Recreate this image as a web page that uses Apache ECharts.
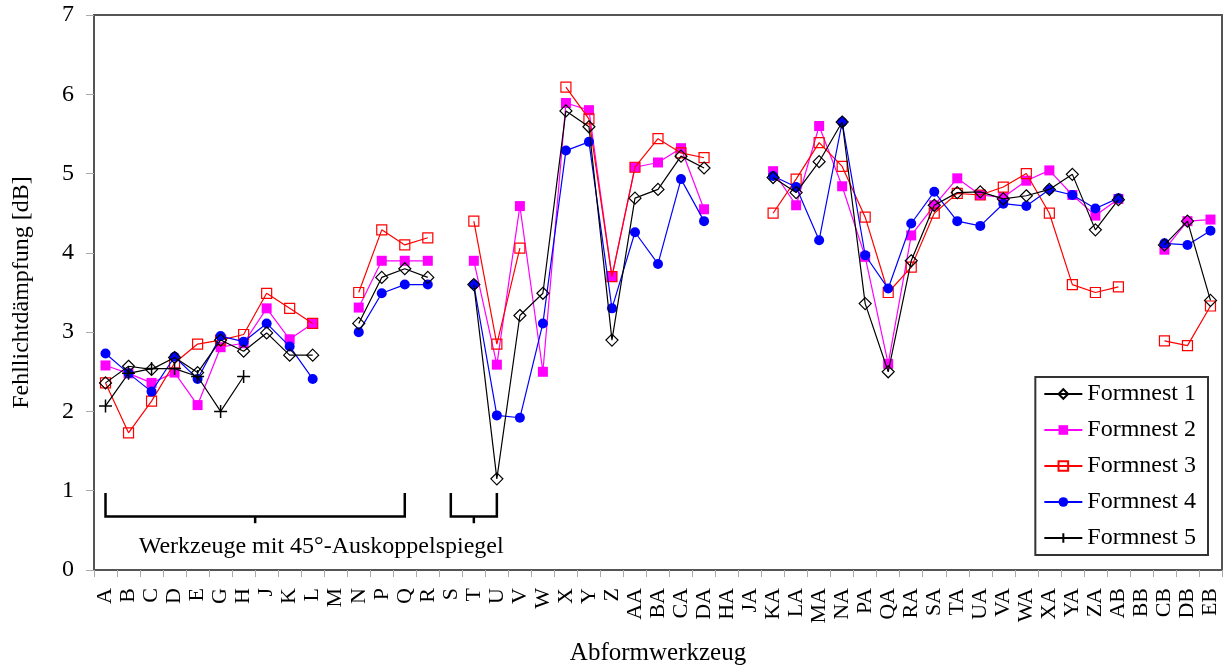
<!DOCTYPE html>
<html>
<head>
<meta charset="utf-8">
<script src="https://cdn.jsdelivr.net/npm/echarts@6/dist/echarts.min.js"></script>
<style>
html,body{margin:0;padding:0;background:#fff;}
#chart{width:1223px;height:668px;}
</style>
</head>
<body>
<div id="chart"></div>
<script>
const categories = ['A','B','C','D','E','G','H','J','K','L','M','N','P','Q','R','S','T','U','V','W','X','Y','Z','AA','BA','CA','DA','HA','JA','KA','LA','MA','NA','PA','QA','RA','SA','TA','UA','VA','WA','XA','YA','ZA','AB','BB','CB','DB','EB'];

const formnest1 = [2.36,2.57,2.53,2.68,2.49,2.90,2.76,2.99,2.71,2.71,null,3.11,3.69,3.80,3.69,null,3.60,1.15,3.21,3.49,5.79,5.59,2.90,4.69,4.80,5.22,5.07,null,null,4.95,4.76,5.15,5.65,3.36,2.50,3.90,4.60,4.76,4.77,4.68,4.72,4.80,4.99,4.29,4.67,null,4.10,4.40,3.40];
const formnest2 = [2.58,2.48,2.36,2.49,2.08,2.81,2.86,3.30,2.91,3.11,null,3.31,3.90,3.90,3.90,null,3.90,2.59,4.59,2.50,5.89,5.80,3.70,5.08,5.14,5.32,4.55,null,null,5.03,4.60,5.60,4.84,3.95,2.60,4.22,4.60,4.94,4.73,4.70,4.91,5.04,4.73,4.47,4.68,null,4.04,4.40,4.42];
const formnest3 = [2.36,1.73,2.13,2.61,2.85,2.90,2.97,3.49,3.30,3.11,null,3.50,4.29,4.10,4.19,null,4.40,2.85,4.06,null,6.09,5.69,3.70,5.08,5.44,5.26,5.20,null,null,4.50,4.93,5.39,5.09,4.45,3.50,3.82,4.50,4.75,4.73,4.83,5.00,4.50,3.60,3.50,3.57,null,2.89,2.83,3.33];
const formnest4 = [2.73,2.48,2.25,2.69,2.41,2.95,2.88,3.11,2.82,2.41,null,3.00,3.49,3.60,3.60,null,3.60,1.95,1.92,3.11,5.29,5.40,3.30,4.26,3.86,4.93,4.40,null,null,4.97,4.83,4.16,5.65,3.97,3.55,4.37,4.77,4.40,4.34,4.62,4.59,4.80,4.73,4.56,4.69,null,4.12,4.10,4.28];
const formnest5 = [2.07,2.48,2.54,2.54,2.44,2.00,2.44,null,null,null,null,null,null,null,null,null,null,null,null,null,null,null,null,null,null,null,null,null,null,null,null,null,null,null,null,null,null,null,null,null,null,null,null,null,null,null,null,null,null];

const seriesNames = ['Formnest 1','Formnest 2','Formnest 3','Formnest 4','Formnest 5'];
const yTicks = [0,1,2,3,4,5,6,7];
const bracketLabel = 'Werkzeuge mit 45°-Auskoppelspiegel';
const bracket1 = ['A','Q'];
const bracket2 = ['S','U'];

const FONT = '"Liberation Serif", "Times New Roman", serif';
const chart = echarts.init(document.getElementById('chart'), null, {renderer:'canvas'});

function mk(name, data, opts) {
  return Object.assign({
    name: name,
    type: 'line',
    data: data,
    connectNulls: false,
    animation: false,
    emphasis: {disabled: true},
  }, opts);
}

const option = {
  backgroundColor: '#fff',
  animation: false,
  grid: {left: 94, right: 1, top: 15, bottom: 98, outerBoundsMode: 'none', containLabel: false, show: true, borderColor: '#555', borderWidth: 2, backgroundColor: 'transparent'},
  legend: {
    data: seriesNames,
    orient: 'vertical',
    right: 15,
    top: 377,
    backgroundColor: '#fff',
    borderColor: '#333',
    borderWidth: 2,
    padding: [5, 12, 5, 8],
    itemGap: 12,
    itemWidth: 38,
    itemHeight: 12,
    textStyle: {fontFamily: FONT, fontSize: 24, color: '#000'}
  },
  xAxis: {
    type: 'category',
    data: categories,
    boundaryGap: true,
    name: 'Abformwerkzeug',
    nameLocation: 'middle',
    nameGap: 71,
    nameTextStyle: {fontFamily: FONT, fontSize: 25, color: '#000'},
    axisLine: {show: true, lineStyle: {color: '#555', width: 2}},
    axisTick: {show: true, alignWithLabel: false, interval: 0, length: 7, lineStyle: {color: '#aaa', width: 1}},
    axisLabel: {interval: 0, rotate: 90, margin: 18, fontFamily: FONT, fontSize: 22, color: '#000'},
    splitLine: {show: false}
  },
  yAxis: {
    type: 'value',
    min: yTicks[0],
    max: yTicks[yTicks.length - 1],
    interval: 1,
    name: 'Fehllichtdämpfung [dB]',
    nameLocation: 'middle',
    nameRotate: 90,
    nameGap: 60,
    nameTextStyle: {fontFamily: FONT, fontSize: 24, color: '#000'},
    axisLine: {show: true, lineStyle: {color: '#555', width: 2}},
    axisTick: {show: true, length: 8, lineStyle: {color: '#aaa', width: 1}},
    axisLabel: {margin: 20, fontFamily: FONT, fontSize: 24, color: '#000'},
    splitLine: {show: false}
  },
  series: [
    mk(seriesNames[0], formnest1, {
      z: 6, symbol: 'diamond', symbolSize: 12,
      itemStyle: {color: 'rgba(255,255,255,0)', borderColor: '#000', borderWidth: 1.2},
      lineStyle: {color: '#000', width: 1.2}
    }),
    mk(seriesNames[1], formnest2, {
      z: 2, symbol: 'rect', symbolSize: 10,
      itemStyle: {color: '#ff00ff'},
      lineStyle: {color: '#ff00ff', width: 1.2}
    }),
    mk(seriesNames[2], formnest3, {
      z: 3, symbol: 'rect', symbolSize: 10,
      itemStyle: {color: 'rgba(255,255,255,0)', borderColor: '#ff0000', borderWidth: 1.2},
      lineStyle: {color: '#ff0000', width: 1.2}
    }),
    mk(seriesNames[3], formnest4, {
      z: 4, symbol: 'circle', symbolSize: 10,
      itemStyle: {color: '#0000ff'},
      lineStyle: {color: '#0000ff', width: 1.2}
    }),
    mk(seriesNames[4], formnest5, {
      z: 5, symbol: 'path://M0,6L12,6M6,0L6,12', symbolSize: 13,
      itemStyle: {color: 'rgba(0,0,0,0)', borderColor: '#000', borderWidth: 1.5},
      lineStyle: {color: '#000', width: 1.2}
    })
  ]
};
chart.setOption(option);

function px(cat, v) { return chart.convertToPixel({xAxisIndex: 0, yAxisIndex: 0}, [cat, v]); }
function bracket(c1, c2, topV, botV, tickV) {
  const a = px(c1, topV), b = px(c2, botV);
  const a2 = px(c2, topV);
  const mid = (a[0] + b[0]) / 2;
  const tb = px(c1, tickV)[1];
  return {
    shape: {points: [[a[0], a[1]], [a[0], b[1]], [b[0], b[1]], [a2[0], a2[1]]]},
    style: {stroke: '#000', lineWidth: 2.5, fill: 'none'},
    _mid: mid, _y: b[1], _tb: tb
  };
}
const b1 = bracket(bracket1[0], bracket1[1], 0.97, 0.675, 0.59);
const b2 = bracket(bracket2[0], bracket2[1], 0.97, 0.675, 0.59);
const textPos = px(bracket1[0], 0.29);
const textEnd = px(bracket2[1], 0.29);
const graphics = [];
[b1, b2].forEach(b => {
  graphics.push({type: 'polyline', silent: true, z: 100, shape: b.shape, style: b.style});
  graphics.push({type: 'line', silent: true, z: 100, shape: {x1: b._mid, y1: b._y, x2: b._mid, y2: b._tb}, style: {stroke: '#000', lineWidth: 2.5}});
});
graphics.push({
  type: 'text', silent: true, z: 100,
  x: (textPos[0] + textEnd[0]) / 2 + 20, y: textPos[1],
  style: {text: bracketLabel, fontFamily: FONT, fontSize: 24, fill: '#000', align: 'center', verticalAlign: 'middle'}
});
chart.setOption({graphic: graphics});
</script>
</body>
</html>
